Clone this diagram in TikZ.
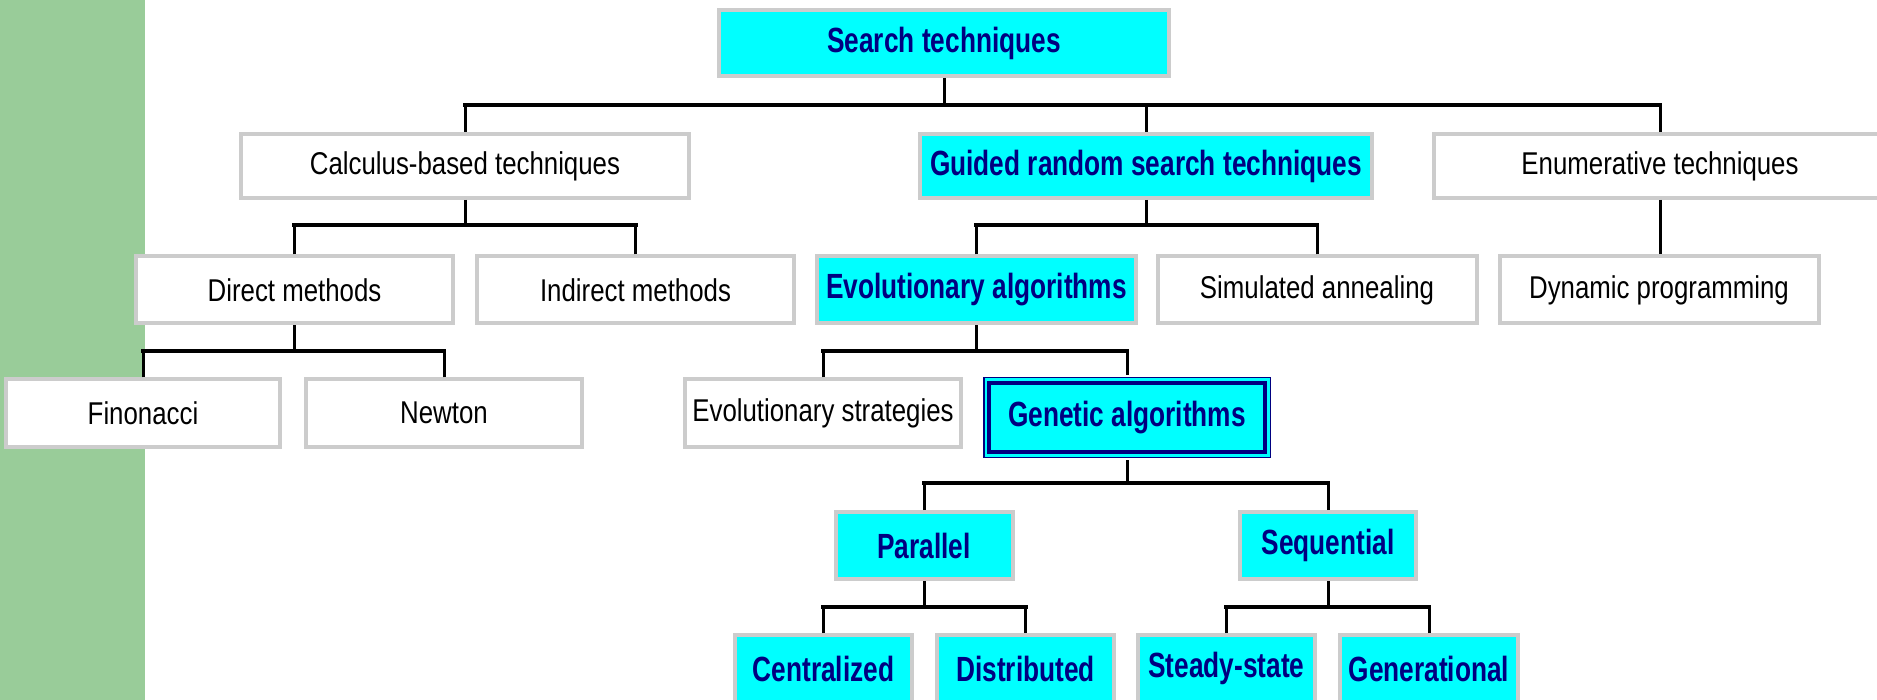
\documentclass[tikz,border=0pt]{standalone}
\usepackage{fontspec}
\setmainfont[FakeStretch=0.82]{Liberation Sans}
\newfontfamily\keyfont[FakeStretch=0.75]{Liberation Sans}
\usepackage{tikz}
\definecolor{boxgray}{RGB}{204,204,204}
\definecolor{navytext}{RGB}{0,0,128}
\definecolor{sidegreen}{RGB}{153,204,153}
\definecolor{boxcyan}{RGB}{0,255,255}
\tikzset{
    plainbox/.style={draw=boxgray, line width=4pt, fill=white, inner sep=0pt,
        font=\fontsize{31.5}{36}\selectfont},
    keybox/.style={plainbox, fill=boxcyan, text=navytext,
        font=\keyfont\fontsize{35}{40}\selectfont\bfseries},
    gabox/.style={keybox, draw=navytext,
        preaction={draw=navytext, line width=12pt},
        preaction={draw=boxcyan, line width=9pt}},
    stem/.style={line width=3pt},
    bar/.style={line width=4.5pt, line cap=rect}
}

\begin{document}
\begin{tikzpicture}[x=1pt,y=-1pt]
                \useasboundingbox (0,0) rectangle (1877,700);
                \clip (0,0) rectangle (1877,700);
                \fill[sidegreen] (0,0) rectangle (145,700);

                \node[keybox, minimum width=450pt, minimum height=66pt] (search) at (944,43) {Search techniques};

                \node[plainbox, minimum width=448pt, minimum height=64pt] (calc) at (465,166) {Calculus-based techniques};
                \node[keybox, minimum width=452pt, minimum height=64pt] (guided) at (1146,166) {Guided random search techniques};
                \node[plainbox, minimum width=452pt, minimum height=64pt] (enum) at (1660,166) {Enumerative techniques};

                \node[plainbox, minimum width=317pt, minimum height=67pt] (direct) at (294.5,290) {Direct methods};
                \node[plainbox, minimum width=317pt, minimum height=67pt] (indirect) at (635.5,290) {Indirect methods};
                \node[keybox, minimum width=319pt, minimum height=67pt] (evo) at (976.5,290) {Evolutionary algorithms};
                \node[plainbox, minimum width=319pt, minimum height=67pt] (sim) at (1317,290) {Simulated annealing};
                \node[plainbox, minimum width=319pt, minimum height=67pt] (dyn) at (1659,290) {Dynamic programming};

                \node[plainbox, minimum width=274pt, minimum height=67pt] (fin) at (143,413) {Finonacci};
                \node[plainbox, minimum width=276pt, minimum height=67pt] (newton) at (444,413) {Newton};
                \node[plainbox, minimum width=276pt, minimum height=67pt] (es) at (823,413) {Evolutionary strategies};
                \node[gabox, minimum width=276pt, minimum height=69pt] (ga) at (1127,417.5) {Genetic algorithms};

                \node[keybox, minimum width=177pt, minimum height=67pt] (par) at (924,545.5) {Parallel};
                \node[keybox, minimum width=176pt, minimum height=67pt] (seq) at (1328,545.5) {Sequential};

                \node[keybox, minimum width=177pt, minimum height=67pt] (cen) at (823.5,668.5) {Centralized};
                \node[keybox, minimum width=177pt, minimum height=67pt] (dis) at (1025.5,668.5) {Distributed};
                \node[keybox, minimum width=177pt, minimum height=67pt] (ste) at (1226.5,668.5) {Steady-state};
                \node[keybox, minimum width=178pt, minimum height=67pt] (gen) at (1429,668.5) {Generational};

                \coordinate (j0) at (944,105);
                \coordinate (j1) at (465,225);
                \coordinate (j2) at (1146,225);
                \coordinate (j3) at (294.5,351);
                \coordinate (j4) at (976.5,351);
                \coordinate (j5) at (1127,483);
                \coordinate (j6) at (924,607);
                \coordinate (j7) at (1328,607);

                \draw[stem] (search.south) -- (j0);
                \draw[stem] (calc.north) -- (calc.north |- j0);
                \draw[stem] (guided.north) -- (guided.north |- j0);
                \draw[stem] (enum.north) -- (enum.north |- j0);
                \draw[bar] (calc.north |- j0) -- (enum.north |- j0);

                \draw[stem] (calc.south) -- (j1);
                \draw[stem] (direct.north) -- (direct.north |- j1);
                \draw[stem] (indirect.north) -- (indirect.north |- j1);
                \draw[bar] (direct.north |- j1) -- (indirect.north |- j1);

                \draw[stem] (guided.south) -- (j2);
                \draw[stem] (evo.north) -- (evo.north |- j2);
                \draw[stem] (sim.north) -- (sim.north |- j2);
                \draw[bar] (evo.north |- j2) -- (sim.north |- j2);

                \draw[stem] (enum.south) -- (enum.south |- dyn.north);

                \draw[stem] (direct.south) -- (j3);
                \draw[stem] (fin.north) -- (fin.north |- j3);
                \draw[stem] (newton.north) -- (newton.north |- j3);
                \draw[bar] (fin.north |- j3) -- (newton.north |- j3);

                \draw[stem] (evo.south) -- (j4);
                \draw[stem] (es.north) -- (es.north |- j4);
                \draw[stem] ([yshift=6pt]ga.north) -- (ga.north |- j4);
                \draw[bar] (es.north |- j4) -- (ga.north |- j4);

                \draw[stem] ([yshift=-6pt]ga.south) -- (j5);
                \draw[stem] (par.north) -- (par.north |- j5);
                \draw[stem] (seq.north) -- (seq.north |- j5);
                \draw[bar] (par.north |- j5) -- (seq.north |- j5);

                \draw[stem] (par.south) -- (j6);
                \draw[stem] (cen.north) -- (cen.north |- j6);
                \draw[stem] (dis.north) -- (dis.north |- j6);
                \draw[bar] (cen.north |- j6) -- (dis.north |- j6);

                \draw[stem] (seq.south) -- (j7);
                \draw[stem] (ste.north) -- (ste.north |- j7);
                \draw[stem] (gen.north) -- (gen.north |- j7);
                \draw[bar] (ste.north |- j7) -- (gen.north |- j7);
            \end{tikzpicture}
\end{document}
